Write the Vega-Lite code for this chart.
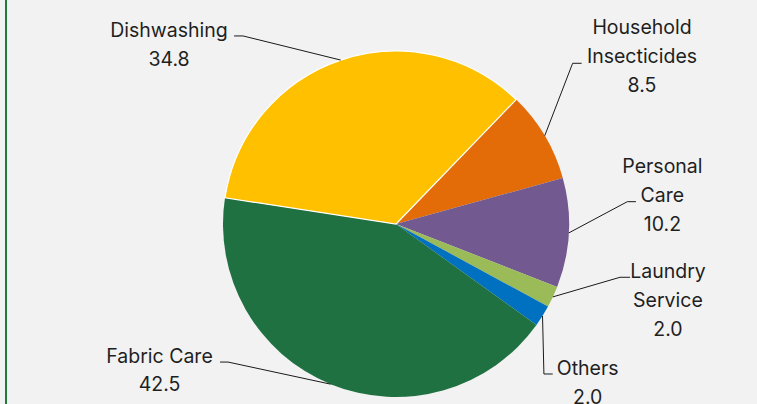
{
  "$schema": "https://vega.github.io/schema/vega-lite/v6.json",
  "width": 757,
  "height": 414,
  "autosize": {"type": "none"},
  "padding": {"left": 6, "top": -5, "right": -6, "bottom": -5},
  "background": "#F2F2F2",
  "config": {"view": {"stroke": "#237A3C", "strokeWidth": 2}},
  "data": {
    "values": [
      {"category": "Household Insecticides", "value": 8.5, "idx": 1},
      {"category": "Personal Care", "value": 10.2, "idx": 2},
      {"category": "Laundry Service", "value": 2.0, "idx": 3},
      {"category": "Others", "value": 2.0, "idx": 4},
      {"category": "Fabric Care", "value": 42.5, "idx": 5},
      {"category": "Dishwashing", "value": 34.8, "idx": 6}
    ]
  },
  "transform": [
    {"joinaggregate": [{"op": "sum", "field": "value", "as": "total"}]},
    {"window": [{"op": "sum", "field": "value", "as": "cum"}], "sort": [{"field": "idx"}], "frame": [null, 0]},
    {"calculate": "0.76794 + 2*PI*(datum.cum - datum.value/2)/datum.total", "as": "ang"},
    {"calculate": "sin(datum.ang)", "as": "px"},
    {"calculate": "cos(datum.ang)", "as": "py"},
    {"calculate": "{'Dishwashing': -1.312, 'Household Insecticides': 1.422, 'Personal Care': 1.540, 'Laundry Service': 1.572, 'Others': 1.108, 'Fabric Care': -1.367}[datum.category]", "as": "tx"},
    {"calculate": "{'Dishwashing': 1.081, 'Household Insecticides': 1.097, 'Personal Care': 0.293, 'Laundry Service': -0.314, 'Others': -0.873, 'Fabric Care': -0.802}[datum.category]", "as": "ty"},
    {"calculate": "{'Dishwashing': -0.884, 'Household Insecticides': 1.021, 'Personal Care': 1.337, 'Laundry Service': 1.295, 'Others': 0.855, 'Fabric Care': -0.971}[datum.category]", "as": "ex"},
    {"calculate": "{'Dishwashing': 1.087, 'Household Insecticides': 0.929, 'Personal Care': 0.129, 'Laundry Service': -0.308, 'Others': -0.867, 'Fabric Care': -0.798}[datum.category]", "as": "ey"},
    {"calculate": "{'Dishwashing': -0.936, 'Household Insecticides': 1.073, 'Personal Care': 1.387, 'Laundry Service': 1.353, 'Others': 0.906, 'Fabric Care': -1.017}[datum.category]", "as": "lx"},
    {"calculate": "(datum.category === 'Fabric Care' ? datum.category : replace(datum.category, ' ', '\\n')) + '\\n' + format(datum.value, '.1f')", "as": "label"}
  ],
  "layer": [
    {
      "mark": {"type": "arc", "radius": 173},
      "encoding": {
        "theta": {"field": "value", "type": "quantitative", "stack": true, "scale": {"range": [0.76794, 7.05113]}},
        "order": {"field": "idx", "type": "quantitative"},
        "color": {
          "field": "category", "type": "nominal", "legend": null,
          "scale": {
            "domain": ["Household Insecticides", "Personal Care", "Laundry Service", "Others", "Fabric Care", "Dishwashing"],
            "range": ["#E36C09", "#72598F", "#9BBB59", "#0070C0", "#1F7141", "#FFC000"]
          }
        },
        "stroke": {"value": "#FFFFFF"},
        "strokeWidth": {"condition": {"test": "datum.category === 'Dishwashing'", "value": 1.2}, "value": 0},
        "x": {"datum": 0, "type": "quantitative", "scale": {"domain": [-2.2543, 2.1214], "nice": false, "zero": false}, "axis": null},
        "y": {"datum": 0, "type": "quantitative", "scale": {"domain": [-1.0694, 1.3237], "nice": false, "zero": false}, "axis": null}
      }
    },
    {
      "mark": {"type": "rule", "color": "#1A1A1A", "strokeWidth": 1},
      "encoding": {
        "x": {"field": "px", "type": "quantitative", "scale": {"domain": [-2.2543, 2.1214], "nice": false, "zero": false}, "axis": null},
        "y": {"field": "py", "type": "quantitative", "scale": {"domain": [-1.0694, 1.3237], "nice": false, "zero": false}, "axis": null},
        "x2": {"field": "ex"},
        "y2": {"field": "ey"}
      }
    },
    {
      "mark": {"type": "rule", "color": "#1A1A1A", "strokeWidth": 1},
      "encoding": {
        "x": {"field": "ex", "type": "quantitative", "scale": {"domain": [-2.2543, 2.1214], "nice": false, "zero": false}, "axis": null},
        "y": {"field": "ey", "type": "quantitative", "scale": {"domain": [-1.0694, 1.3237], "nice": false, "zero": false}, "axis": null},
        "x2": {"field": "lx"},
        "y2": {"field": "ey"}
      }
    },
    {
      "mark": {"type": "text", "align": "center", "baseline": "alphabetic", "font": "Inter", "fontSize": 19.5, "lineHeight": 28.7, "lineBreak": "\n", "color": "#1F1F1F"},
      "encoding": {
        "x": {"field": "tx", "type": "quantitative", "scale": {"domain": [-2.2543, 2.1214], "nice": false, "zero": false}, "axis": null},
        "y": {"field": "ty", "type": "quantitative", "scale": {"domain": [-1.0694, 1.3237], "nice": false, "zero": false}, "axis": null},
        "text": {"field": "label"}
      }
    }
  ]
}
